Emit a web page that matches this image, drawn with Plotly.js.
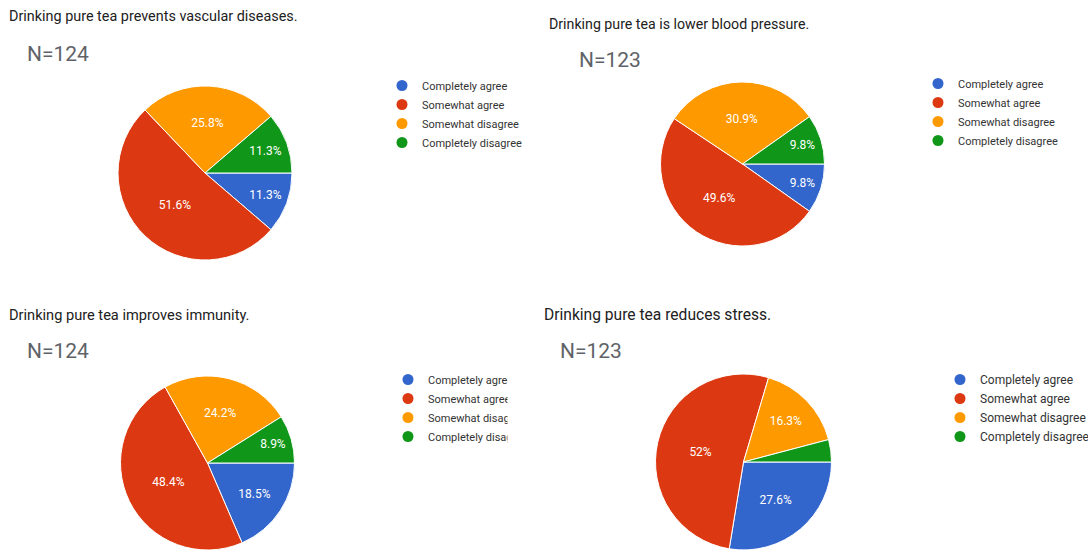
<!DOCTYPE html>
<html><head><meta charset="utf-8">
<script src="https://cdn.plot.ly/plotly-3.0.1.min.js"></script>
<style>html,body{margin:0;padding:0;background:#fff}#chart{width:1088px;height:550px}</style>
</head><body><div id="chart"></div>
<script>
// ---- data ----
const categories = ["Completely agree", "Somewhat agree", "Somewhat disagree", "Completely disagree"];
const questions = [
  "Drinking pure tea prevents vascular diseases.",
  "Drinking pure tea is lower blood pressure.",
  "Drinking pure tea improves immunity.",
  "Drinking pure tea reduces stress."
];
const sampleSizes = [124, 123, 124, 123];
const vascularPct = [11.3, 51.6, 25.8, 11.3];
const bloodPressurePct = [9.8, 49.6, 30.9, 9.8];
const immunityPct = [18.5, 48.4, 24.2, 8.9];
const stressPct = [27.6, 52, 16.3, 4.1];
const seriesValues = [vascularPct, bloodPressurePct, immunityPct, stressPct];
const sliceColors = ["#3366cc", "#dc3912", "#ff9900", "#109618"];

// ---- layout (pixels) ----
const W = 1088, H = 550;
const panels = [
  {cx: 205, cy: 173, r: 87, tx: 7, ty: 17, ts: 14.4, nx: 25, ny: 54, lx: 382, ly: 71, ls: 11},
  {cx: 742.5, cy: 164, r: 82, tx: 547, ty: 24, ts: 14.2, nx: 577, ny: 60, lx: 918, ly: 69, ls: 11},
  {cx: 207.5, cy: 463, r: 87, tx: 7, ty: 315, ts: 14.6, nx: 25, ny: 351, lx: 388, ly: 365, ls: 11},
  {cx: 743.5, cy: 462, r: 88, tx: 542, ty: 315, ts: 15.6, nx: 558, ny: 351, lx: 940, ly: 365, ls: 12}
];
const FONT = "Roboto, Arial, sans-serif";

const traces = [];
const annotations = [];
const layout = {
  width: W, height: H,
  margin: {l: 0, r: 0, t: 0, b: 0, pad: 0, autoexpand: false},
  paper_bgcolor: "#ffffff", plot_bgcolor: "#ffffff",
  font: {family: FONT, color: "#222222"},
  hovermode: false,
  xaxis: {visible: false, fixedrange: true},
  yaxis: {visible: false, fixedrange: true},
  showlegend: true
};

panels.forEach((p, i) => {
  const legendId = i === 0 ? "legend" : "legend" + (i + 1);
  const vals = seriesValues[i];
  traces.push({
    type: "pie",
    labels: categories,
    values: vals,
    sort: false,
    direction: "clockwise",
    rotation: 90,
    marker: {colors: sliceColors, line: {color: "#ffffff", width: 1}},
    texttemplate: vals.map(v => v < 5 ? "" : "%{value}%"),
    textposition: "inside",
    insidetextorientation: "horizontal",
    insidetextfont: {family: FONT, size: 12, color: "#ffffff"},
    showlegend: false,
    hoverinfo: "skip",
    domain: {
      x: [(p.cx - p.r) / W, (p.cx + p.r) / W],
      y: [Math.max(0, (H - p.cy - p.r) / H), Math.min(1, (H - p.cy + p.r) / H)]
    }
  });
  categories.forEach((c, j) => {
    traces.push({
      type: "scatter", mode: "markers", x: [null], y: [null],
      name: c, legend: legendId, showlegend: true, hoverinfo: "skip",
      marker: {color: sliceColors[j], size: 11, symbol: "circle"}
    });
  });
  layout[legendId] = {
    x: p.lx / W, xanchor: "left", y: 1 - p.ly / H, yanchor: "top",
    bgcolor: "rgba(0,0,0,0)", borderwidth: 0,
    font: {family: FONT, size: p.ls, color: "#333333"},
    itemclick: false, itemdoubleclick: false
  };
  annotations.push({
    xref: "paper", yref: "paper", x: p.tx / W, y: 1 - p.ty / H,
    xanchor: "left", yanchor: "middle", showarrow: false,
    text: questions[i], font: {family: FONT, size: p.ts, color: "#212121"}
  });
  annotations.push({
    xref: "paper", yref: "paper", x: p.nx / W, y: 1 - p.ny / H,
    xanchor: "left", yanchor: "middle", showarrow: false,
    text: "N=" + sampleSizes[i], font: {family: FONT, size: 21, color: "#5f6368"}
  });
});

// crop of the third legend as in the source screenshot
annotations.push({
  xref: "paper", yref: "paper", x: 507 / W, y: 1 - 363 / H,
  xanchor: "left", yanchor: "top", showarrow: false,
  text: " ", width: 34, height: 85, bgcolor: "#ffffff", borderpad: 0
});
layout.annotations = annotations;

Plotly.newPlot("chart", traces, layout, {displayModeBar: false, staticPlot: true});
</script>
</body></html>
